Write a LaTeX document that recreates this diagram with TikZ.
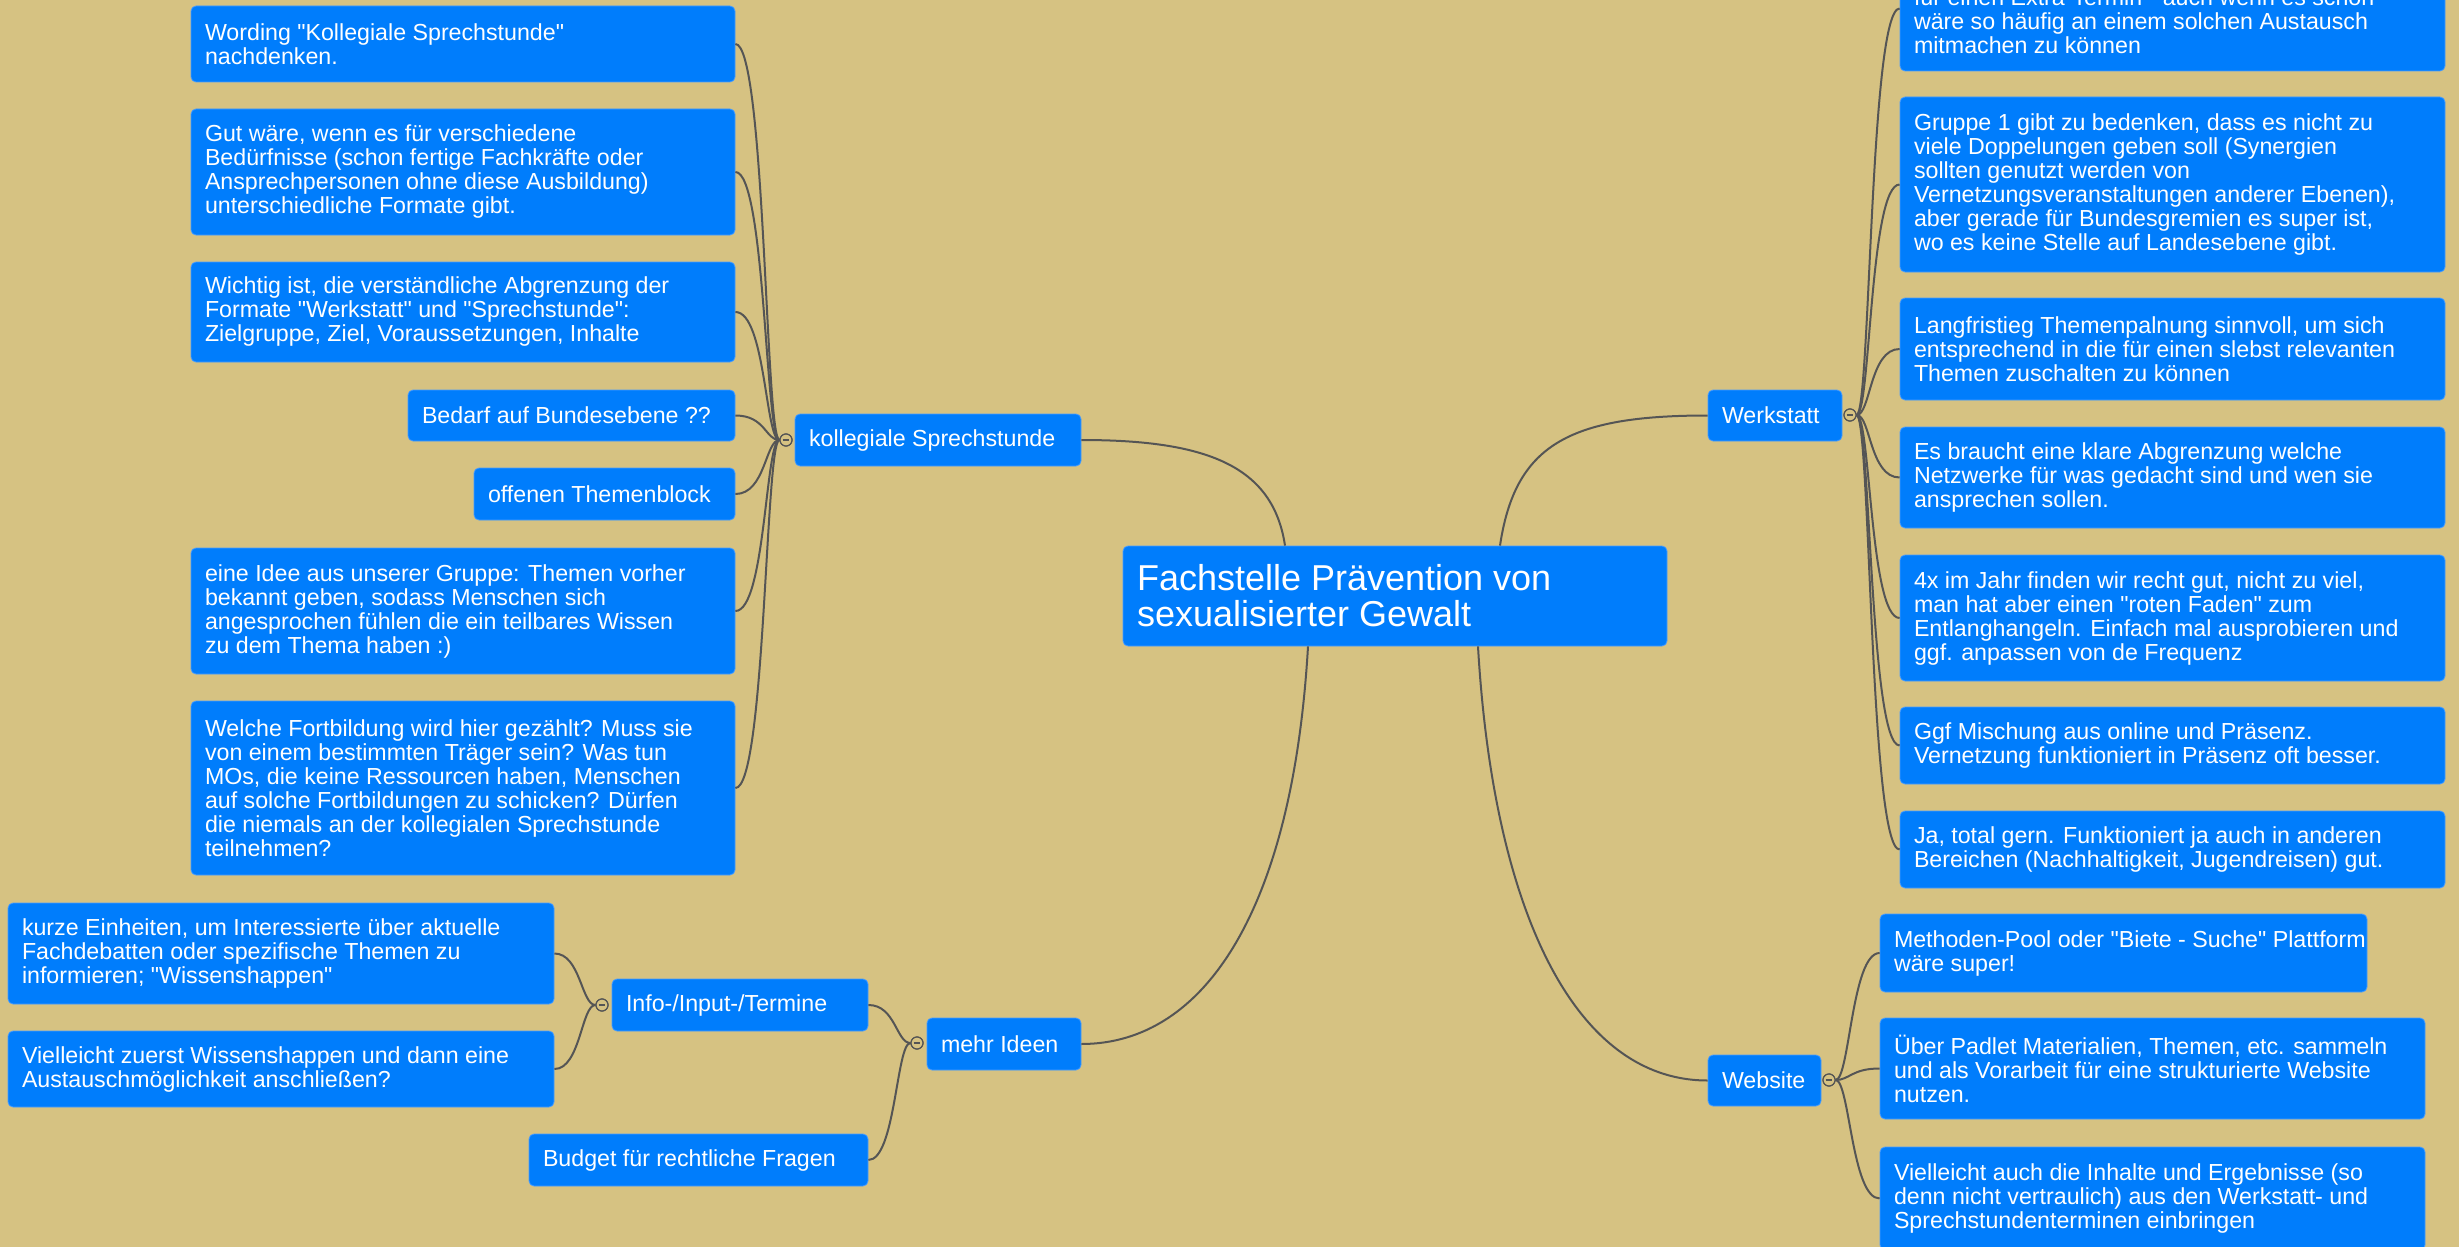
\documentclass[tikz,border=0pt]{standalone}
\usepackage{fontspec}
\setmainfont{Liberation Sans}[Ligatures=TeXOff]
\usetikzlibrary{calc}
\definecolor{bg}{RGB}{214,194,130}
\definecolor{boxblue}{RGB}{0,125,252}
\definecolor{boxedge}{RGB}{70,155,255}
\definecolor{linegray}{RGB}{85,85,85}
\tikzset{
  box/.style={fill=boxblue, draw=boxedge, line width=0.4pt, rounded corners=2.5pt, inner sep=0pt},
  txt/.style={text=white, align=left, inner sep=0pt, font=\fontsize{11.6}{12}\selectfont},
  bigtxt/.style={text=white, align=left, inner sep=0pt, font=\fontsize{18}{18}\selectfont},
  conn/.style={draw=linegray, line width=1pt},
  marker/.style={circle, draw=linegray, fill=bg, line width=0.6pt, minimum size=6pt, inner sep=0pt,
    path picture={\draw[linegray, line width=0.6pt] ([xshift=-1.7pt]path picture bounding box.center) -- ([xshift=1.7pt]path picture bounding box.center);}}
}
\newcommand\mmbox[7]{%
  \node[box, minimum width={(#4-#2)*0.5pt}, minimum height={(#5-#3)*0.5pt}] (#1) at ({(#2+#4)/2},{(#3+#5)/2}) {};
  \node[#6, anchor=west] at ([xshift=7pt]#1.west) {#7};
}
\begin{document}
\begin{tikzpicture}[x=0.5pt,y=-0.5pt]
\fill[bg] (0,0) rectangle (2459,1247);
\useasboundingbox (0,0) rectangle (2459,1247);

% central
\mmbox{central}{1123}{546}{1667}{646}{bigtxt}{Fachstelle Prävention von\\sexualisierter Gewalt}

% level 1
\mmbox{kol}{795}{414}{1081}{466}{txt}{kollegiale Sprechstunde}
\mmbox{werk}{1708}{390}{1842}{441}{txt}{Werkstatt}
\mmbox{mehr}{927}{1018}{1081}{1070}{txt}{mehr Ideen}
\mmbox{web}{1708}{1055}{1821}{1106}{txt}{Website}

% markers
\node[marker] (mkkol) at (786,440) {};
\node[marker] (mkwerk) at (1850,415) {};
\node[marker] (mkmehr) at (917,1043) {};
\node[marker] (mkweb) at (1829,1080) {};

% kollegiale children
\mmbox{k1}{191}{6}{735}{82}{txt}{Wording "Kollegiale Sprechstunde"\\nachdenken.}
\mmbox{k2}{191}{109}{735}{235}{txt}{Gut wäre, wenn es für verschiedene\\Bedürfnisse (schon fertige Fachkräfte oder\\Ansprechpersonen ohne diese Ausbildung)\\unterschiedliche Formate gibt.}
\mmbox{k3}{191}{262}{735}{362}{txt}{Wichtig ist, die verständliche Abgrenzung der\\Formate "Werkstatt" und "Sprechstunde":\\Zielgruppe, Ziel, Voraussetzungen, Inhalte}
\mmbox{k4}{408}{390}{735}{441}{txt}{Bedarf auf Bundesebene ??}
\mmbox{k5}{474}{468}{735}{520}{txt}{offenen Themenblock}
\mmbox{k6}{191}{548}{735}{674}{txt}{eine Idee aus unserer Gruppe: Themen vorher\\bekannt geben, sodass Menschen sich\\angesprochen fühlen die ein teilbares Wissen\\zu dem Thema haben :)}
\mmbox{k7}{191}{701}{735}{875}{txt}{Welche Fortbildung wird hier gezählt? Muss sie\\von einem bestimmten Träger sein? Was tun\\MOs, die keine Ressourcen haben, Menschen\\auf solche Fortbildungen zu schicken? Dürfen\\die niemals an der kollegialen Sprechstunde\\teilnehmen?}

% mehr Ideen children
\mmbox{info}{612}{979}{868}{1031}{txt}{Info-/Input-/Termine}
\mmbox{budget}{529}{1134}{868}{1186}{txt}{Budget für rechtliche Fragen}
\node[marker] (mkinfo) at (602,1005) {};
\mmbox{i1}{8}{903}{554}{1004}{txt}{kurze Einheiten, um Interessierte über aktuelle\\Fachdebatten oder spezifische Themen zu\\informieren; "Wissenshappen"}
\mmbox{i2}{8}{1031}{554}{1107}{txt}{Vielleicht zuerst Wissenshappen und dann eine\\Austauschmöglichkeit anschließen?}

% Werkstatt children
\mmbox{w1}{1900}{-54}{2445}{71}{txt}{\strut\\für einen Extra-Termin - auch wenn es schon\\wäre so häufig an einem solchen Austausch\\mitmachen zu können}
\mmbox{w2}{1900}{97}{2445}{272}{txt}{Gruppe 1 gibt zu bedenken, dass es nicht zu\\viele Doppelungen geben soll (Synergien\\sollten genutzt werden von\\Vernetzungsveranstaltungen anderer Ebenen),\\aber gerade für Bundesgremien es super ist,\\wo es keine Stelle auf Landesebene gibt.}
\mmbox{w3}{1900}{298}{2445}{400}{txt}{Langfristieg Themenpalnung sinnvoll, um sich\\entsprechend in die für einen slebst relevanten\\Themen zuschalten zu können}
\mmbox{w4}{1900}{427}{2445}{528}{txt}{Es braucht eine klare Abgrenzung welche\\Netzwerke für was gedacht sind und wen sie\\ansprechen sollen.}
\mmbox{w5}{1900}{555}{2445}{681}{txt}{4x im Jahr finden wir recht gut, nicht zu viel,\\man hat aber einen "roten Faden" zum\\Entlanghangeln. Einfach mal ausprobieren und\\ggf. anpassen von de Frequenz}
\mmbox{w6}{1900}{707}{2445}{784}{txt}{Ggf Mischung aus online und Präsenz.\\Vernetzung funktioniert in Präsenz oft besser.}
\mmbox{w7}{1900}{811}{2445}{888}{txt}{Ja, total gern. Funktioniert ja auch in anderen\\Bereichen (Nachhaltigkeit, Jugendreisen) gut.}

% Website children
\mmbox{s1}{1880}{914}{2367}{992}{txt}{Methoden-Pool oder "Biete - Suche" Plattform\\wäre super!}
\mmbox{s2}{1880}{1018}{2425}{1119}{txt}{Über Padlet Materialien, Themen, etc. sammeln\\und als Vorarbeit für eine strukturierte Website\\nutzen.}
\mmbox{s3}{1880}{1147}{2425}{1250}{txt}{Vielleicht auch die Inhalte und Ergebnisse (so\\denn nicht vertraulich) aus den Werkstatt- und\\Sprechstundenterminen einbringen}

% main connectors
\draw[conn] (kol.east) .. controls +(125,0) and +(-12,-80) .. ($(central.north)+(-110,0)$);
\draw[conn] ($(central.north)+(105,0)$) .. controls +(15,-100) and +(-140,0) .. (werk.west);
\draw[conn] ($(central.south)+(-87,0)$) .. controls +(-15,260) and +(125,0) .. (mehr.east);
\draw[conn] ($(central.south)+(83,0)$) .. controls +(15,260) and +(-135,0) .. (web.west);

% fans
\foreach \c in {k1,k2,k3,k4,k5,k6,k7}
  \draw[conn] (mkkol.west) .. controls +(-14,0) and +(30,0) .. (\c.east);
\foreach \c in {w1,w2,w3,w4,w5,w6,w7}
  \draw[conn] (mkwerk.east) .. controls +(14,0) and +(-30,0) .. (\c.west);
\foreach \c in {s1,s2,s3}
  \draw[conn] (mkweb.east) .. controls +(14,0) and +(-28,0) .. (\c.west);
\foreach \c in {info,budget}
  \draw[conn] (mkmehr.west) .. controls +(-14,0) and +(27,0) .. (\c.east);
\foreach \c in {i1,i2}
  \draw[conn] (mkinfo.west) .. controls +(-14,0) and +(26,0) .. (\c.east);

% redraw markers on top
\node[marker] at (786,440) {};
\node[marker] at (1850,415) {};
\node[marker] at (917,1043) {};
\node[marker] at (1829,1080) {};
\node[marker] at (602,1005) {};
\end{tikzpicture}
\end{document}
